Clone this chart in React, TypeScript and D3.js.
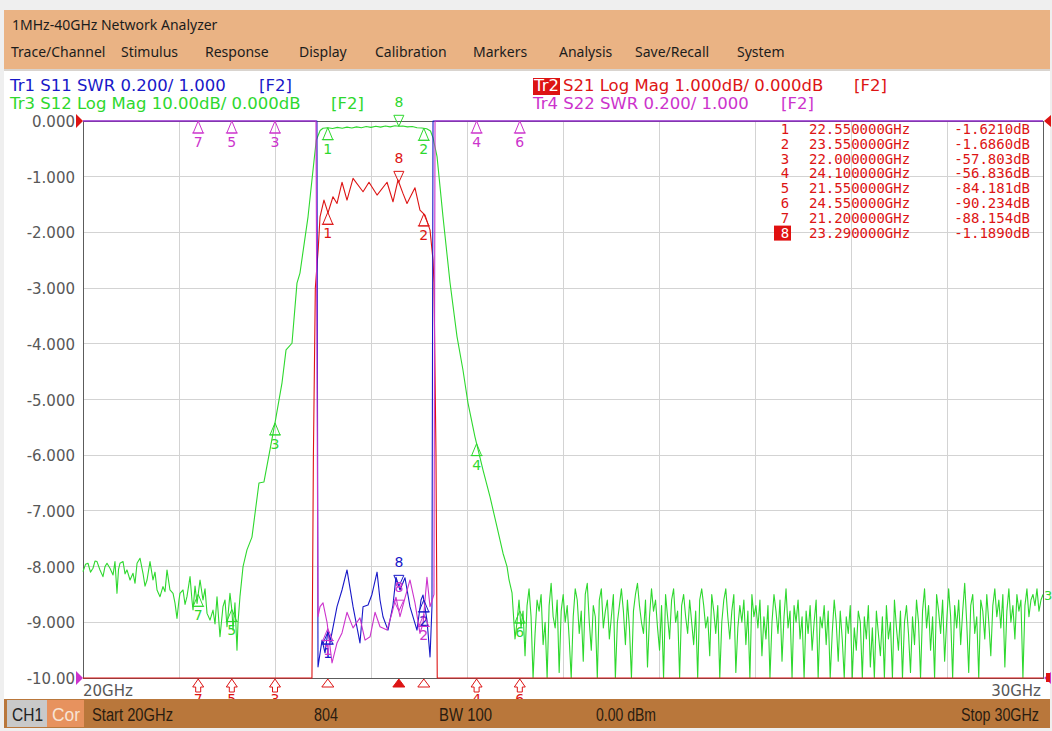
import React from "react";
import * as d3 from "d3";

type Pt = [number, number];

// ---- header / menu text ----
const title = "1MHz-40GHz Network Analyzer";
const menuItems = ["Trace/Channel", "Stimulus", "Response", "Display", "Calibration", "Markers", "Analysis", "Save/Recall", "System"];
const menuX = [11, 121, 205, 299, 375, 473, 559, 635, 737];

// ---- axes ----
const freqGrid = [20, 21, 22, 23, 24, 25, 26, 27, 28, 29, 30];
const divTicks = [0, -1, -2, -3, -4, -5, -6, -7, -8, -9, -10];
const divLabels = ["0.000", "-1.000", "-2.000", "-3.000", "-4.000", "-5.000", "-6.000", "-7.000", "-8.000", "-9.000", "-10.00"];

// ---- Tr3 S12 (dB, 10 dB/div) ----
const s12Left: Pt[] = [
  [20.0, -80.9], [20.026, -79.6], [20.052, -79.4], [20.078, -81.0], [20.104, -80.3], [20.125, -79.0],
  [20.146, -79.1], [20.177, -80.6], [20.208, -81.8], [20.229, -80.0], [20.25, -79.4], [20.281, -80.3],
  [20.313, -81.5], [20.333, -79.1], [20.354, -84.8], [20.37, -80.5], [20.385, -79.4], [20.417, -79.1],
  [20.438, -81.3], [20.458, -80.6], [20.49, -82.4], [20.521, -81.2], [20.542, -83.0], [20.563, -79.4],
  [20.594, -78.5], [20.625, -81.2], [20.646, -83.5], [20.667, -82.4], [20.698, -79.1], [20.729, -82.4],
  [20.75, -81.0], [20.771, -84.2], [20.802, -85.4], [20.833, -83.6], [20.854, -84.5], [20.875, -80.6],
  [20.906, -84.2], [20.938, -84.8], [20.958, -86.5], [20.979, -89.3], [21.0, -86.0], [21.01, -84.8],
  [21.042, -84.2], [21.063, -86.8], [21.083, -85.4], [21.115, -81.8], [21.135, -86.0], [21.146, -87.8],
  [21.167, -83.5], [21.188, -86.6], [21.219, -82.4], [21.25, -86.0], [21.271, -84.0], [21.292, -88.4],
  [21.323, -89.6], [21.354, -87.8], [21.375, -90.3], [21.396, -85.4], [21.427, -92.6], [21.458, -87.2],
  [21.479, -86.0], [21.5, -90.8], [21.531, -84.8], [21.552, -88.0], [21.563, -91.4], [21.583, -86.5],
  [21.604, -95.0], [21.615, -90.0], [21.635, -85.4], [21.667, -80.0],
];
const s12Band: Pt[] = [
  [21.708, -77.0], [21.76, -74.7], [21.833, -65.0], [21.885, -64.8], [21.948, -59.0], [22.0, -54.2],
  [22.073, -47.0], [22.115, -41.1], [22.177, -39.9], [22.229, -29.1], [22.26, -27.3], [22.344, -17.2],
  [22.396, -8.8], [22.43, -3.4], [22.47, -1.7], [22.5, -1.3], [22.55, -1.2], [22.6, -1.35], [22.65, -1.15],
  [22.7, -1.3], [22.75, -1.1], [22.8, -1.25], [22.85, -1.05], [22.9, -1.2], [22.95, -1.0], [23.0, -1.15],
  [23.05, -0.95], [23.1, -1.1], [23.15, -0.9], [23.2, -1.05], [23.25, -0.85], [23.29, -0.95], [23.33, -0.9],
  [23.38, -1.05], [23.43, -1.0], [23.48, -1.2], [23.53, -1.25], [23.58, -1.4], [23.62, -1.8], [23.646, -3.0],
  [23.688, -6.4], [23.75, -17.2], [23.823, -29.0], [23.896, -38.7], [23.958, -44.7], [24.01, -50.6],
  [24.083, -56.7], [24.167, -62.7], [24.24, -67.5], [24.313, -72.9], [24.375, -77.6], [24.417, -80.0],
  [24.438, -82.4], [24.469, -84.7],
];
// noise floor read on the sweep grid, 24.5 GHz .. 30 GHz
const floorStartGHz = 24.5;
const floorStopGHz = 30;
const s12FloorDb = [
  -93, -90, -86, -91, -88, -96, -87, -84, -89, -100, -92, -86, -88, -85, -94, -90, -101, -87, -83, -89,
  -91, -86, -99, -88, -85, -90, -87, -93, -100, -89, -84, -86, -92, -88, -97, -85, -83, -90, -95, -87,
  -89, -102, -86, -84, -91, -88, -86, -93, -89, -85, -100, -90, -87, -84, -88, -94, -86, -91, -101, -88,
  -85, -83, -87, -90, -92, -86, -98, -89, -84, -88, -86, -91, -95, -87, -100, -85, -89, -93, -86, -84,
  -90, -88, -103, -87, -85, -89, -92, -86, -90, -94, -88, -100, -86, -84, -87, -91, -89, -96, -85, -88,
  -92, -87, -101, -90, -86, -84, -89, -93, -88, -85, -99, -91, -87, -90, -86, -94, -88, -102, -85, -89,
  -87, -91, -86, -96, -89, -93, -87, -100, -90, -85, -88, -92, -86, -97, -89, -84, -91, -88, -101, -87,
  -90, -86, -93, -89, -100, -88, -92, -87, -95, -90, -86, -103, -89, -91, -87, -94, -88, -100, -92, -86,
  -90, -97, -88, -93, -100, -89, -92, -87, -101, -91, -95, -88, -90, -102, -89, -93, -87, -98, -91, -100,
  -88, -92, -96, -89, -101, -87, -93, -90, -100, -86, -91, -95, -88, -103, -90, -87, -92, -99, -89, -94,
  -86, -90, -100, -88, -84, -91, -87, -95, -89, -101, -85, -88, -92, -86, -97, -90, -84, -89, -100, -87,
  -91, -86, -94, -88, -83, -90, -99, -87, -85, -92, -89, -101, -86, -88, -93, -85, -90, -96, -87, -84,
  -89, -86, -91, -85, -98, -88, -84, -90, -87, -93, -85, -88, -86, -100, -87, -84, -89, -86, -85, -87,
  -84, -88, -86, -85,
];

// ---- Tr2 S21 (dB, 1 dB/div) ----
const s21Curve: Pt[] = [
  [20.0, -40], [22.37, -40], [22.385, -20], [22.4, -6], [22.42, -3.0], [22.45, -2.3], [22.469, -1.72],
  [22.51, -1.42], [22.552, -1.65], [22.604, -1.36], [22.646, -1.48], [22.698, -1.1], [22.75, -1.42],
  [22.813, -1.03], [22.917, -1.27], [22.979, -1.1], [23.063, -1.33], [23.167, -1.1], [23.229, -1.45],
  [23.281, -1.06], [23.333, -1.3], [23.375, -1.48], [23.458, -1.2], [23.51, -1.6], [23.563, -1.69],
  [23.615, -1.96], [23.646, -2.5], [23.656, -2.9], [23.677, -6], [23.69, -20], [23.7, -40], [30.0, -40],
];

// ---- Tr1 S11 / Tr4 S22 (SWR, 0.2/div, 1.000 at bottom) ----
const s11Curve: Pt[] = [
  [20, 8], [22.437, 8], [22.448, 1.04], [22.49, 1.136], [22.521, 1.09], [22.552, 1.17], [22.573, 1.126],
  [22.646, 1.256], [22.698, 1.316], [22.75, 1.388], [22.813, 1.256], [22.885, 1.126], [22.917, 1.256],
  [22.969, 1.262], [23.01, 1.3], [23.063, 1.38], [23.094, 1.28], [23.125, 1.22], [23.177, 1.172],
  [23.229, 1.262], [23.26, 1.362], [23.302, 1.316], [23.354, 1.36], [23.406, 1.256], [23.479, 1.172],
  [23.521, 1.28], [23.542, 1.298], [23.583, 1.208], [23.615, 1.076], [23.635, 1.256], [23.646, 8], [30, 8],
];
const s22Curve: Pt[] = [
  [20, 8], [22.427, 8], [22.448, 1.22], [22.469, 1.256], [22.5, 1.27], [22.542, 1.2], [22.594, 1.054],
  [22.646, 1.126], [22.698, 1.162], [22.75, 1.236], [22.813, 1.18], [22.885, 1.216], [22.938, 1.136],
  [22.99, 1.148], [23.042, 1.236], [23.094, 1.184], [23.167, 1.172], [23.219, 1.234], [23.26, 1.29],
  [23.302, 1.22], [23.354, 1.288], [23.406, 1.352], [23.458, 1.27], [23.51, 1.16], [23.542, 1.196],
  [23.583, 1.362], [23.615, 1.256], [23.656, 1.3], [23.667, 8], [30, 8],
];

// ---- markers ----
const markerIds = [1, 2, 3, 4, 5, 6, 7, 8];
const markerGHz = [22.55, 23.55, 22.0, 24.1, 21.55, 24.55, 21.2, 23.29];
const markerReadout = ["-1.6210dB", "-1.6860dB", "-57.803dB", "-56.836dB", "-84.181dB", "-90.234dB", "-88.154dB", "-1.1890dB"];
const activeMarker = 8;

// ---- status bar ----
const statusItems = ["Start 20GHz", "804", "BW 100", "0.00 dBm", "Stop 30GHz"];

const W = 1052;
const H = 731;
const plot = { left: 83, right: 1043, top: 121, bottom: 678 };

const C = {
  blue: "#1818c8",
  red: "#dd1414",
  green: "#2ed82e",
  magenta: "#cc33cc",
  grid: "#d3d3d3",
  axisText: "#585858",
};

const valueAt = (data: Pt[], f: number) => {
  const i = d3.bisector((d: Pt) => d[0]).left(data, f);
  if (i <= 0) return data[0][1];
  if (i >= data.length) return data[data.length - 1][1];
  const a = data[i - 1];
  const b = data[i];
  const t = (f - a[0]) / (b[0] - a[0]);
  return a[1] + t * (b[1] - a[1]);
};

const App: React.FC = () => {
  const x = d3.scaleLinear().domain([20, 30]).range([plot.left, plot.right]);
  const yDiv = d3.scaleLinear().domain([-10, 0]).range([plot.bottom, plot.top]);
  const yS21 = d3.scaleLinear().domain([-10, 0]).range([plot.bottom, plot.top]).clamp(true);
  const yS12 = d3.scaleLinear().domain([-100, 0]).range([plot.bottom, plot.top]).clamp(true);
  const ySwr = d3.scaleLinear().domain([1, 3]).range([plot.bottom, plot.top]).clamp(true);

  const floorStep = (floorStopGHz - floorStartGHz) / (s12FloorDb.length - 1);
  const s12Floor: Pt[] = s12FloorDb.map((v, i) => [floorStartGHz + i * floorStep, v]);
  const s12Curve: Pt[] = [...s12Left, ...s12Band, ...s12Floor];

  const linePath = (data: Pt[], y: d3.ScaleLinear<number, number>) =>
    d3.line<Pt>().x((d) => x(d[0])).y((d) => y(d[1]))(data) || "";

  const tri = (key: string, cx: number, cy: number, id: number, color: string, down: boolean) =>
    down ? (
      <g key={key}>
        <path d={`M${cx},${cy} L${cx - 5},${cy - 11} L${cx + 5},${cy - 11} Z`} fill="none" stroke={color} strokeWidth={1} />
        <text x={cx} y={cy - 19} textAnchor="middle" fontSize={14} fill={color}>{id}</text>
      </g>
    ) : (
      <g key={key}>
        <path d={`M${cx},${cy} L${cx - 5},${cy + 12} L${cx + 5},${cy + 12} Z`} fill="none" stroke={color} strokeWidth={1} />
        <line x1={cx - 6} x2={cx + 6} y1={cy + 12} y2={cy + 12} stroke={color} />
        <text x={cx} y={cy + 26} textAnchor="middle" fontSize={14} fill={color}>{id}</text>
      </g>
    );

  const traceMarkers = (
    name: string,
    data: Pt[],
    y: d3.ScaleLinear<number, number>,
    color: string,
    ids: number[]
  ) =>
    ids.map((id) => {
      const f = markerGHz[id - 1];
      const cy = y(valueAt(data, f));
      return tri(`${name}${id}`, x(f), cy, id, color, id === activeMarker);
    });

  const inBand = [1, 2, 8];
  const outBand = [3, 4, 5, 6, 7];

  const redBottomArrows = outBand.map((id) => {
    const cx = x(markerGHz[id - 1]);
    const b = plot.bottom + 1;
    return (
      <g key={`ra${id}`}>
        <path
          d={`M${cx},${b} L${cx - 5.5},${b + 8} L${cx - 2.5},${b + 8} L${cx - 2.5},${b + 13} L${cx + 2.5},${b + 13} L${cx + 2.5},${b + 8} L${cx + 5.5},${b + 8} Z`}
          fill="white"
          stroke={C.red}
        />
        <text x={cx} y={b + 25} textAnchor="middle" fontSize={14} fill={C.red}>{id}</text>
      </g>
    );
  });

  const stimulusMarks = inBand.map((id) => {
    const cx = x(markerGHz[id - 1]);
    const b = plot.bottom + 1;
    return (
      <path
        key={`sm${id}`}
        d={`M${cx},${b} L${cx - 6},${b + 8} L${cx + 6},${b + 8} Z`}
        fill={id === activeMarker ? C.red : "white"}
        stroke={C.red}
      />
    );
  });

  const fmtGHz = d3.format(".6f");
  const s12Last = s12Curve[s12Curve.length - 1][1];

  return (
    <svg
      width={W}
      height={H}
      viewBox={`0 0 ${W} ${H}`}
      style={{ position: "fixed", left: 0, top: 0, fontFamily: "DejaVu Sans" }}
    >
      {/* window chrome */}
      <rect x={0} y={0} width={W} height={H} fill="#efefef" />
      <rect x={4} y={10} width={W - 6} height={59} fill="#eab384" />
      <rect x={4} y={69} width={W - 6} height={2} fill="#d9d4cf" />
      <rect x={4} y={71} width={W - 6} height={628} fill="#ffffff" />
      <text x={12} y={30} fontFamily="Noto Sans" fontSize={14} fill="#1c1c1c">{title}</text>
      {menuItems.map((m, i) => (
        <text key={m} x={menuX[i]} y={57} fontFamily="Noto Sans" fontSize={14} fill="#1c1c1c">{m}</text>
      ))}

      {/* trace headers */}
      <g fontSize={16.5}>
        <text x={10} y={91} fill={C.blue}>Tr1 S11 SWR 0.200/ 1.000</text>
        <text x={259} y={91} fill={C.blue}>[F2]</text>
        <text x={10} y={109} fill={C.green}>Tr3 S12 Log Mag 10.00dB/ 0.000dB</text>
        <text x={331} y={109} fill={C.green}>[F2]</text>
        <rect x={533} y={78} width={27} height={17} fill={C.red} />
        <text x={534} y={91} fill="#ffffff">Tr2</text>
        <text x={563} y={91} fill={C.red}>S21 Log Mag 1.000dB/ 0.000dB</text>
        <text x={854} y={91} fill={C.red}>[F2]</text>
        <text x={533} y={109} fill={C.magenta}>Tr4 S22 SWR 0.200/ 1.000</text>
        <text x={781} y={109} fill={C.magenta}>[F2]</text>
      </g>

      {/* graticule */}
      <g shapeRendering="crispEdges">
        {freqGrid.map((f) => (
          <line key={`gx${f}`} x1={x(f)} x2={x(f)} y1={plot.top} y2={plot.bottom} stroke={C.grid} />
        ))}
        {divTicks.map((t) => (
          <line key={`gy${t}`} x1={plot.left} x2={plot.right} y1={yDiv(t)} y2={yDiv(t)} stroke={C.grid} />
        ))}
        <rect x={plot.left} y={plot.top} width={plot.right - plot.left} height={plot.bottom - plot.top} fill="none" stroke="#5c5c5c" />
      </g>
      {divTicks.map((t, i) => (
        <text key={`yl${t}`} x={75} y={yDiv(t) + 6} textAnchor="end" fontSize={15} fill={C.axisText}>
          {divLabels[i]}
        </text>
      ))}
      <text x={x(20)} y={696} fontSize={15} fill={C.axisText}>20GHz</text>
      <text x={x(30) - 2} y={696} textAnchor="end" fontSize={15} fill={C.axisText}>30GHz</text>

      {/* marker table */}
      <g fontFamily="DejaVu Sans Mono" fontSize={14} fill={C.red}>
        {markerIds.map((id, i) => {
          const by = 134 + i * 14.8;
          return (
            <g key={`mt${id}`}>
              {id === activeMarker && <rect x={774} y={by - 12} width={17} height={15} fill="#e01010" />}
              <text x={785} y={by} textAnchor="middle" fill={id === activeMarker ? "#ffffff" : C.red}>{id}</text>
              <text x={809} y={by}>{fmtGHz(markerGHz[i])}GHz</text>
              <text x={1030} y={by} textAnchor="end">{markerReadout[i]}</text>
            </g>
          );
        })}
      </g>

      {/* traces */}
      <g fill="none" strokeWidth={1.1} strokeLinejoin="round">
        <path d={linePath(s12Curve, yS12)} stroke={C.green} />
        <path d={linePath(s21Curve, yS21)} stroke={C.red} />
        <path d={linePath(s11Curve, ySwr)} stroke={C.blue} />
        <path d={linePath(s22Curve, ySwr)} stroke={C.magenta} />
      </g>

      {/* markers */}
      {traceMarkers("g", s12Curve, yS12, C.green, markerIds)}
      {traceMarkers("r", s21Curve, yS21, C.red, inBand)}
      {traceMarkers("b", s11Curve, ySwr, C.blue, inBand)}
      {traceMarkers("m", s22Curve, ySwr, C.magenta, markerIds)}
      {redBottomArrows}
      {stimulusMarks}

      {/* reference / trace end indicators */}
      <path d={`M${plot.left - 7},${plot.top - 7} L${plot.left},${plot.top} L${plot.left - 7},${plot.top + 7} Z`} fill={C.red} />
      <path d={`M${plot.left - 7},${plot.bottom - 7} L${plot.left},${plot.bottom} L${plot.left - 7},${plot.bottom + 7} Z`} fill={C.magenta} />
      <path d={`M${plot.right + 8},${plot.top - 6} L${plot.right + 1},${plot.top} L${plot.right + 8},${plot.top + 6} Z`} fill={C.red} />
      <path d={`M${plot.right + 8},${plot.bottom - 6} L${plot.right + 1},${plot.bottom} L${plot.right + 8},${plot.bottom + 6} Z`} fill={C.magenta} />
      <rect x={plot.right + 3} y={plot.bottom - 5} width={4} height={9} fill={C.red} />
      <text x={plot.right + 1} y={yS12(s12Last) + 6} fontSize={13} fill={C.green}>3</text>

      {/* status bar */}
      <rect x={4} y={699} width={W - 6} height={29} fill="#b9773b" />
      <rect x={7} y={700} width={40} height={27} fill="#c9c9c9" />
      <rect x={47} y={700} width={37} height={27} fill="#e7925e" />
      <g fontFamily="Liberation Sans" fontSize={18}>
        <text x={12} y={721} fill="#222" textLength={31} lengthAdjust="spacingAndGlyphs">CH1</text>
        <text x={52} y={721} fill="#f7e4d6" textLength={28} lengthAdjust="spacingAndGlyphs">Cor</text>
        <text x={92} y={721} fill="#2a1c10" textLength={81} lengthAdjust="spacingAndGlyphs">{statusItems[0]}</text>
        <text x={314} y={721} fill="#2a1c10" textLength={24} lengthAdjust="spacingAndGlyphs">{statusItems[1]}</text>
        <text x={439} y={721} fill="#2a1c10" textLength={53} lengthAdjust="spacingAndGlyphs">{statusItems[2]}</text>
        <text x={596} y={721} fill="#2a1c10" textLength={60} lengthAdjust="spacingAndGlyphs">{statusItems[3]}</text>
        <text x={961} y={721} fill="#2a1c10" textLength={78} lengthAdjust="spacingAndGlyphs">{statusItems[4]}</text>
      </g>
    </svg>
  );
};

export default App;
